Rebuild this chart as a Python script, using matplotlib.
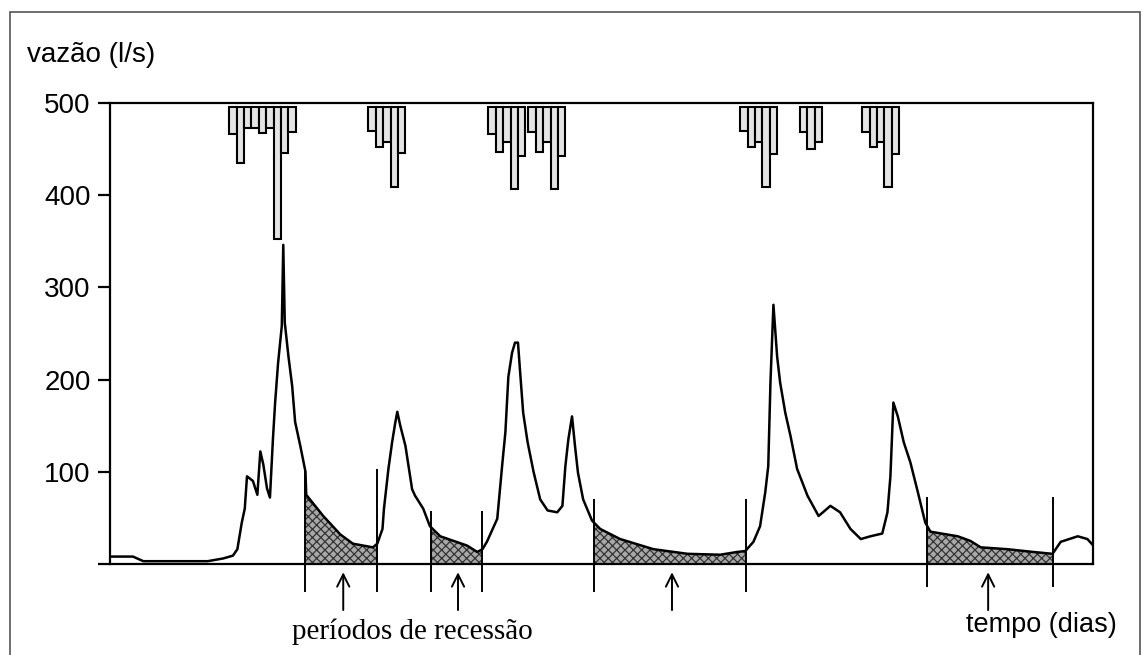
import numpy as np
import matplotlib.pyplot as plt
from matplotlib.patches import Rectangle

plt.rcParams['font.family'] = ['Liberation Sans', 'DejaVu Sans']
plt.rcParams['hatch.linewidth'] = 0.9

# hydrograph: time (days) and flow (l/s)
dias = [0, 3.1, 4.5, 13.2, 15.3, 16.6, 17.2, 17.8, 18.2, 18.5, 19.3, 19.9, 20.3,
        20.7, 21.2, 21.6, 22.0, 22.3, 22.7, 23.2, 23.4, 23.6, 24.1, 24.6, 25.0,
        25.7, 26.4, 26.5, 28.8, 31.1, 32.8, 35.5, 36.1, 36.8, 37.0, 37.6, 38.1,
        38.5, 38.8, 39.2, 39.9, 40.8, 41.2, 42.3, 43.2, 44.6, 46.4, 48.2, 49.6,
        50.3, 50.9, 52.3, 53.0, 53.4, 53.8, 54.3, 54.7, 55.1, 55.4, 55.8, 56.4,
        57.2, 58.1, 59.1, 60.4, 61.1, 61.5, 61.9, 62.4, 62.8, 63.2, 63.9, 65.1,
        66.2, 68.9, 73.4, 78.0, 82.4, 84.7, 85.8, 86.9, 87.8, 88.5, 88.9, 89.2,
        89.6, 90.1, 90.5, 91.2, 91.9, 92.8, 94.2, 95.7, 97.3, 98.6, 100.0, 101.4,
        102.7, 104.3, 105.0, 105.4, 105.8, 106.4, 107.2, 108.1, 109.1, 110.1,
        110.8, 114.5, 116.2, 117.6, 121.2, 124.7, 127.3, 128.4, 130.7, 132.0, 132.8]
vazao = [8, 8, 3, 3, 6, 9, 16, 45, 60, 95, 90, 75, 122,
         108, 82, 72, 135, 175, 218, 258, 346, 262, 225, 193, 154,
         128, 100, 75, 52, 32, 22, 18, 22, 38, 60, 103, 132,
         152, 165, 150, 128, 81, 74, 60, 41, 30, 25, 20, 13,
         16, 24, 49, 110, 143, 203, 229, 240, 240, 207, 164, 132,
         100, 70, 58, 56, 63, 106, 135, 160, 128, 99, 70, 47,
         38, 27, 16, 11, 10, 13, 14, 24, 41, 78, 106, 197,
         281, 225, 197, 164, 139, 103, 74, 52, 63, 56, 38, 27,
         30, 33, 56, 95, 175, 160, 132, 110, 78, 45,
         35, 30, 25, 18, 16, 13, 11, 24, 30, 27, 20]

# rainfall bars hanging from the top (first day of each event, depths)
chuva_inicio = [16.1, 34.9, 51.1, 56.5, 85.1, 93.2, 101.6]
chuva = [
    [29, 60, 22, 22, 28, 22, 143, 49, 27],
    [26, 43, 37, 86, 49],
    [29, 48, 38, 88, 53],
    [27, 48, 38, 88, 53],
    [26, 43, 37, 86, 51],
    [27, 45, 37],
    [27, 43, 38, 86, 50],
]

# recession periods (start, end), height of the marker lines, arrows
recessoes = [(26.4, 36.1), (43.4, 50.3), (65.3, 85.9), (110.4, 127.4)]
topo_marcas = [103, 57, 70, 73]
base_marcas = [-30, -30, -30, -25]
setas = [31.5, 47.0, 75.9, 118.6]

fig = plt.figure(figsize=(11.46, 6.55), dpi=100)
ax = fig.add_axes([0.096, 0.139, 0.858, 0.704])

# shaded recession areas
for (a, b) in recessoes:
    xs = [a] + [d for d in dias if a < d < b] + [b]
    ys = np.interp(xs, dias, vazao)
    ax.fill_between(xs, 0, ys, facecolor='#a8a8a8', edgecolor='#333333',
                    hatch='xxxx', linewidth=0)

ax.plot(dias, vazao, color='black', lw=1.8)

for x0, prof in zip(chuva_inicio, chuva):
    xb = x0 + np.arange(len(prof))
    ax.bar(xb, -np.array(prof), bottom=495, width=1, align='edge',
           facecolor='#e4e4e4', edgecolor='black', lw=1.5, clip_on=False)

for (a, b), top, bot in zip(recessoes, topo_marcas, base_marcas):
    ax.vlines([a, b], bot, top, color='black', lw=1.4, clip_on=False)

for s in setas:
    ax.annotate('', xy=(s, -9), xytext=(s, -50),
                arrowprops=dict(arrowstyle='->', lw=1.4, color='black',
                                mutation_scale=22, shrinkA=0, shrinkB=0),
                annotation_clip=False)

ax.text(40.8, -74, 'períodos de recessão', family=['Liberation Serif', 'DejaVu Serif'],
        fontsize=21, ha='center', va='center')
ax.text(125.8, -66, 'tempo (dias)', fontsize=19.5, ha='center', va='center')

ax.set_xlim(0, 132.8)
ax.set_ylim(0, 500)
ax.set_yticks([0, 100, 200, 300, 400, 500])
ax.set_yticklabels(['', '100', '200', '300', '400', '500'])
ax.set_xticks([])
ax.tick_params(axis='y', direction='out', length=9, width=1.6, labelsize=20, pad=5)
for sp in ax.spines.values():
    sp.set_linewidth(1.6)

fig.text(27 / 1146, 1 - 55 / 655, 'vazão (l/s)', fontsize=20, ha='left', va='center')

fig.add_artist(Rectangle((10 / 1146, -0.05), 1130 / 1146, (655 - 12) / 655 + 0.05,
                         transform=fig.transFigure, fill=False,
                         edgecolor='#555555', lw=1.2))

fig.savefig('out.png', dpi=100)
